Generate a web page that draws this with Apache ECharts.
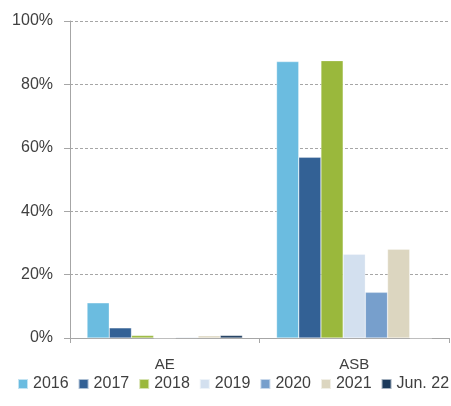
<!DOCTYPE html>
<html>
<head>
<meta charset="utf-8">
<script src="https://cdn.jsdelivr.net/npm/echarts@6/dist/echarts.min.js"></script>
<style>
  html, body { margin: 0; padding: 0; background: #fff; }
  #chart { width: 451px; height: 406px; }
</style>
</head>
<body>
<div id="chart"></div>
<script>
// categories and series (values in %)
const categories = ['AE', 'ASB']
const seriesNames = ['2016', '2017', '2018', '2019', '2020', '2021', 'Jun. 22']
const v2016 = [11.1, 87.2]
const v2017 = [3.2, 57.0]
const v2018 = [0.8, 87.5]
const v2019 = [0.0, 26.4]
const v2020 = [0.2, 14.4]
const v2021 = [0.7, 28.0]
const vJun22 = [0.8, 0.0]
const yTicks = [0, 20, 40, 60, 80, 100]

const colors = ['#6bbce0', '#336195', '#9ab83c', '#d3e0ef', '#779fcc', '#dcd6c0', '#1b3a5c']
const allValues = [v2016, v2017, v2018, v2019, v2020, v2021, vJun22]

const chart = echarts.init(document.getElementById('chart'))
const font = 'Liberation Sans'
const textColor = '#404040'
const lineColor = '#a6a6a6'

const option = {
  animation: false,
  color: colors,
  textStyle: { fontFamily: font },
  grid: { left: 70, right: 2, top: 21, bottom: 68 },
  legend: {
    left: 17,
    top: 376,
    width: 440,
    padding: 0,
    itemWidth: 10,
    itemHeight: 10,
    itemGap: 9,
    icon: 'rect',
    textStyle: { fontFamily: font, fontSize: 16, color: textColor },
    data: seriesNames
  },
  xAxis: {
    type: 'category',
    data: categories,
    axisLine: { lineStyle: { color: lineColor, width: 1 } },
    axisTick: { show: true, length: 5, lineStyle: { color: lineColor } },
    axisLabel: { fontSize: 15, color: textColor, margin: 19, fontFamily: font }
  },
  yAxis: {
    type: 'value',
    min: yTicks[0],
    max: yTicks[yTicks.length - 1],
    interval: 20,
    axisLine: { show: true, lineStyle: { color: lineColor, width: 1 } },
    axisTick: { show: true, length: 6, lineStyle: { color: lineColor } },
    axisLabel: { fontSize: 16, color: textColor, margin: 17, fontFamily: font, formatter: '{value}%' },
    splitLine: { show: true, lineStyle: { color: lineColor, type: [3, 2], width: 1 } }
  },
  series: seriesNames.map((name, i) => ({
    name: name,
    type: 'bar',
    data: allValues[i],
    barGap: '0%',
    barCategoryGap: '18%',
    itemStyle: { borderColor: 'rgba(255,255,255,0.6)', borderWidth: 0.5 }
  }))
}

chart.setOption(option)
</script>
</body>
</html>
